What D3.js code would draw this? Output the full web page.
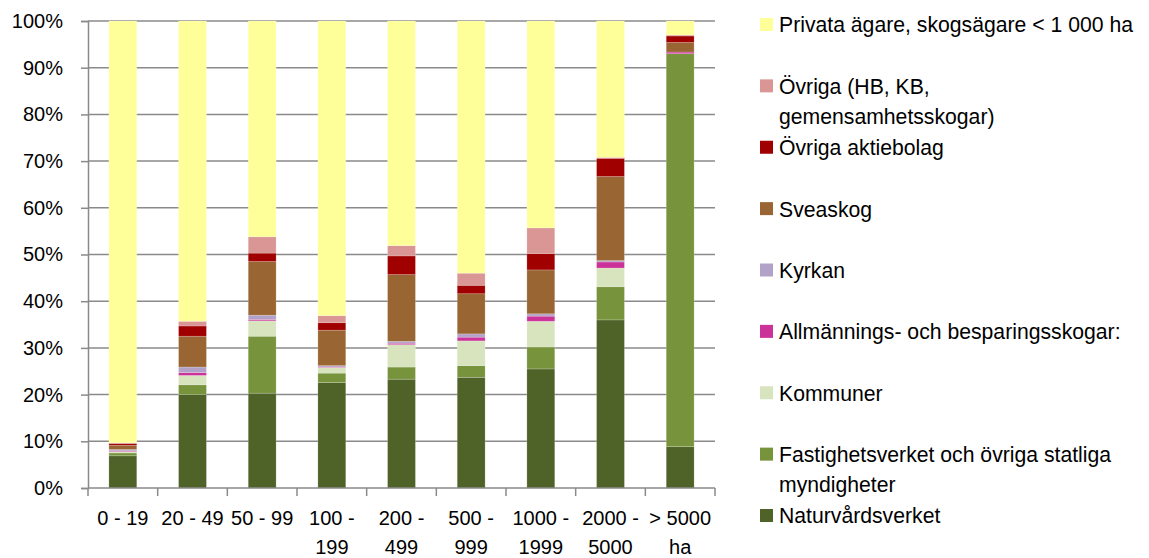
<!DOCTYPE html>
<html><head><meta charset="utf-8">
<script src="https://cdn.jsdelivr.net/npm/d3@7"></script>
<style>
body{margin:0;background:#fff}
svg{display:block}
text{font-family:"Liberation Sans",Arial,sans-serif;fill:#000}
</style>
</head><body>
<svg id="chart" width="1149" height="558"></svg>
<script>
// ---- data (percent of area per size class) ----
const categories = ["0 - 19","20 - 49","50 - 99","100 - 199","200 - 499","500 - 999","1000 - 1999","2000 - 5000","> 5000 ha"];
const seriesNames = [
  "Naturvårdsverket",
  "Fastighetsverket och övriga statliga myndigheter",
  "Kommuner",
  "Allmännings- och besparingsskogar:",
  "Kyrkan",
  "Sveaskog",
  "Övriga aktiebolag",
  "Övriga (HB, KB, gemensamhetsskogar)",
  "Privata ägare, skogsägare < 1 000 ha"
];
const naturvardsverket = [6.9, 20.0, 20.3, 22.6, 23.3, 23.7, 25.5, 36.0, 8.85];
const fastighetsverket = [0.6, 2.1, 12.2, 2.0, 2.6, 2.5, 4.7, 7.1, 84.15];
const kommuner         = [0.3, 2.0, 3.3, 1.2, 4.8, 5.3, 5.5, 4.0, 0.0];
const allmannings      = [0.15, 0.6, 0.3, 0.1, 0.3, 0.8, 1.1, 1.3, 0.35];
const kyrkan           = [0.3, 1.2, 0.9, 0.3, 0.4, 0.7, 0.5, 0.3, 0.0];
const sveaskog         = [0.9, 6.6, 11.5, 7.6, 14.3, 8.6, 9.4, 18.0, 2.05];
const ovrigaAB         = [0.4, 2.2, 1.8, 1.6, 4.0, 1.8, 3.5, 3.9, 1.4];
const ovrigaHB         = [0.1, 1.0, 3.5, 1.5, 2.2, 2.6, 5.5, 0.2, 0.2];
const privata          = [90.35, 64.3, 46.2, 63.1, 48.1, 54.0, 44.3, 29.2, 3.0];
const seriesValues = [naturvardsverket, fastighetsverket, kommuner, allmannings, kyrkan, sveaskog, ovrigaAB, ovrigaHB, privata];
const seriesColors = ["#4F6228","#77933C","#D7E4BD","#CC3399","#B3A2C7","#996633","#A00000","#D99694","#FFFF99"];
const yTicks = [0,10,20,30,40,50,60,70,80,90,100];

(function () {
// ---- layout ----
const svg = d3.select("#chart");
const plotLeft = 88, plotRight = 715, plotTop = 21, plotBottom = 488;
const axisFont = 20, legendFont = 21.2;

const x = d3.scaleBand().domain(categories).range([plotLeft, plotRight]).paddingInner(0.6).paddingOuter(0.3);
const y = d3.scaleLinear().domain([0, 100]).range([plotBottom, plotTop]);

const rows = categories.map((c, i) => {
  const r = {category: c};
  seriesNames.forEach((s, k) => r[s] = seriesValues[k][i]);
  return r;
});
const stacked = d3.stack().keys(seriesNames).offset(d3.stackOffsetExpand)(rows);
const color = d3.scaleOrdinal().domain(seriesNames).range(seriesColors);

// gridlines
svg.append("g").selectAll("line").data(yTicks.filter(t => t > 0)).join("line")
  .attr("x1", plotLeft).attr("x2", plotRight)
  .attr("y1", d => y(d)).attr("y2", d => y(d))
  .attr("stroke", "#8a8a8a").attr("stroke-width", 1.5);

// bars
svg.append("g").selectAll("g").data(stacked).join("g")
  .attr("fill", d => color(d.key))
  .selectAll("rect").data(d => d).join("rect")
  .attr("x", d => x(d.data.category))
  .attr("width", x.bandwidth())
  .attr("y", d => y(d[1] * 100))
  .attr("height", d => Math.max(0, y(d[0] * 100) - y(d[1] * 100)))
  .attr("stroke", "#ffffff").attr("stroke-opacity", 0.25).attr("stroke-width", 0.75);

// y axis
const yAxis = svg.append("g").attr("transform", `translate(${plotLeft},0)`)
  .call(d3.axisLeft(y).tickValues(yTicks).tickFormat(d => d + "%").tickSize(7).tickPadding(18));
yAxis.select(".domain").attr("stroke", "#8a8a8a").attr("stroke-width", 1.5);
yAxis.selectAll(".tick line").attr("stroke", "#8a8a8a").attr("stroke-width", 1.5);
yAxis.selectAll(".tick text").attr("font-size", axisFont).attr("font-family", '"Liberation Sans",Arial,sans-serif').attr("fill", "#000");

// x axis: baseline + ticks at category boundaries
const step = x.step();
const bounds = d3.range(categories.length + 1).map(i => plotLeft + i * step);
svg.append("line").attr("x1", plotLeft).attr("x2", plotRight).attr("y1", plotBottom).attr("y2", plotBottom)
  .attr("stroke", "#8a8a8a").attr("stroke-width", 1.5);
svg.append("g").selectAll("line").data(bounds).join("line")
  .attr("x1", d => d).attr("x2", d => d).attr("y1", plotBottom).attr("y2", plotBottom + 8)
  .attr("stroke", "#8a8a8a").attr("stroke-width", 1.5);

// wrap helper
const measurer = svg.append("text").attr("visibility", "hidden");
function wrapWords(str, size, maxW) {
  measurer.attr("font-size", size);
  const words = str.split(" ");
  const lines = [];
  let cur = "";
  words.forEach(w => {
    const t = cur ? cur + " " + w : w;
    measurer.text(t);
    if (cur && measurer.node().getComputedTextLength() > maxW) { lines.push(cur); cur = w; }
    else cur = t;
  });
  if (cur) lines.push(cur);
  return lines;
}

// x labels
const xl = svg.append("g");
categories.forEach(c => {
  const lines = wrapWords(c, axisFont, step + 2);
  const t = xl.append("text").attr("text-anchor", "middle").attr("font-size", axisFont)
    .attr("x", x(c) + x.bandwidth() / 2);
  lines.forEach((ln, i) => t.append("tspan").attr("x", x(c) + x.bandwidth() / 2)
    .attr("y", 518 + i * 29).attr("dy", "0.35em").text(ln));
});

// legend (top to bottom = reverse of stack order)
const legendItems = seriesNames.slice().reverse();
const ly = d3.scaleLinear().domain([0, legendItems.length - 1]).range([25, 516]);
const lg = svg.append("g");
legendItems.forEach((name, i) => {
  const cy = ly(i);
  lg.append("rect").attr("x", 760).attr("y", cy - 7).attr("width", 13).attr("height", 13).attr("fill", color(name));
  const lines = wrapWords(name, legendFont, 362);
  const t = lg.append("text").attr("font-size", legendFont);
  lines.forEach((ln, k) => t.append("tspan").attr("x", 779).attr("y", cy + k * 30).attr("dy", "0.35em").text(ln));
});
measurer.remove();
})();
</script>
</body></html>
